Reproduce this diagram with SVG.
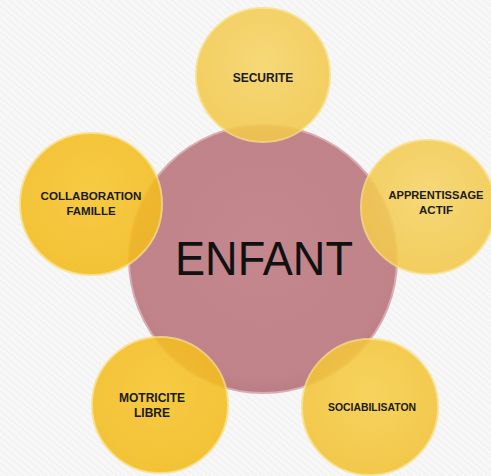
<svg xmlns="http://www.w3.org/2000/svg" width="491" height="476" viewBox="0 0 491 476">
  <defs>
    <pattern id="stripes" width="5" height="5" patternUnits="userSpaceOnUse" patternTransform="rotate(-50)">
      <rect width="5" height="5" fill="#f7f7f7"/>
      <line x1="0" y1="0" x2="0" y2="5" stroke="#ebebeb" stroke-width="1.2"/>
    </pattern>
    <radialGradient id="pinkG" cx="0.5" cy="0.45" r="0.55">
      <stop offset="0" stop-color="#c4878d"/>
      <stop offset="0.9" stop-color="#c0838a"/>
      <stop offset="1" stop-color="#bb7d85"/>
    </radialGradient>
    <radialGradient id="yelA" cx="0.5" cy="0.4" r="0.6">
      <stop offset="0" stop-color="#f6d567"/>
      <stop offset="1" stop-color="#f3c84a"/>
    </radialGradient>
    <radialGradient id="yelB" cx="0.5" cy="0.4" r="0.6">
      <stop offset="0" stop-color="#f7c52c"/>
      <stop offset="1" stop-color="#f3bb1c"/>
    </radialGradient>
    <radialGradient id="yelC" cx="0.5" cy="0.4" r="0.6">
      <stop offset="0" stop-color="#f7cf4a"/>
      <stop offset="1" stop-color="#f2c233"/>
    </radialGradient>
  </defs>
  <style>
    .lbl { font-family: "Liberation Sans", Arial, sans-serif; font-weight: bold; fill: #1a1a1a; text-anchor: middle; }
    .ring { stroke: #f8df82; stroke-width: 2; stroke-opacity: 0.9; }
    .sat { opacity: 0.88; }
  </style>
  <rect width="491" height="476" fill="url(#stripes)"/>

  <g id="enfant">
    <circle cx="263" cy="259" r="134" fill="url(#pinkG)" stroke="#d8acb0" stroke-width="2"/>
    <text x="264" y="275" font-family="Liberation Sans, Arial, sans-serif" font-size="49" fill="#111" text-anchor="middle" textLength="178" lengthAdjust="spacingAndGlyphs">ENFANT</text>
  </g>

  <g id="connectors"></g>

  <g id="securite">
    <circle class="sat ring" cx="263" cy="75" r="67" fill="url(#yelA)"/>
    <text class="lbl" x="263" y="82" font-size="12">SECURITE</text>
  </g>

  <g id="collaboration">
    <circle class="sat ring" cx="91" cy="204" r="71" fill="url(#yelB)"/>
    <text class="lbl" x="91" y="200" font-size="11.5" textLength="101" lengthAdjust="spacingAndGlyphs">COLLABORATION</text>
    <text class="lbl" x="91" y="215" font-size="11.5">FAMILLE</text>
  </g>

  <g id="apprentissage">
    <circle class="sat ring" cx="428" cy="207" r="67" fill="url(#yelA)"/>
    <text class="lbl" x="436" y="199" font-size="11.5" textLength="95" lengthAdjust="spacingAndGlyphs">APPRENTISSAGE</text>
    <text class="lbl" x="436" y="214" font-size="11.5">ACTIF</text>
  </g>

  <g id="motricite">
    <circle class="sat ring" cx="160" cy="405" r="68" fill="url(#yelB)"/>
    <text class="lbl" x="152" y="402" font-size="12">MOTRICITE</text>
    <text class="lbl" x="152" y="417" font-size="12">LIBRE</text>
  </g>

  <g id="sociabilisaton">
    <circle class="sat ring" cx="370" cy="407" r="68" fill="url(#yelC)"/>
    <text class="lbl" x="372" y="411" font-size="11" textLength="88" lengthAdjust="spacingAndGlyphs">SOCIABILISATON</text>
  </g>
</svg>
